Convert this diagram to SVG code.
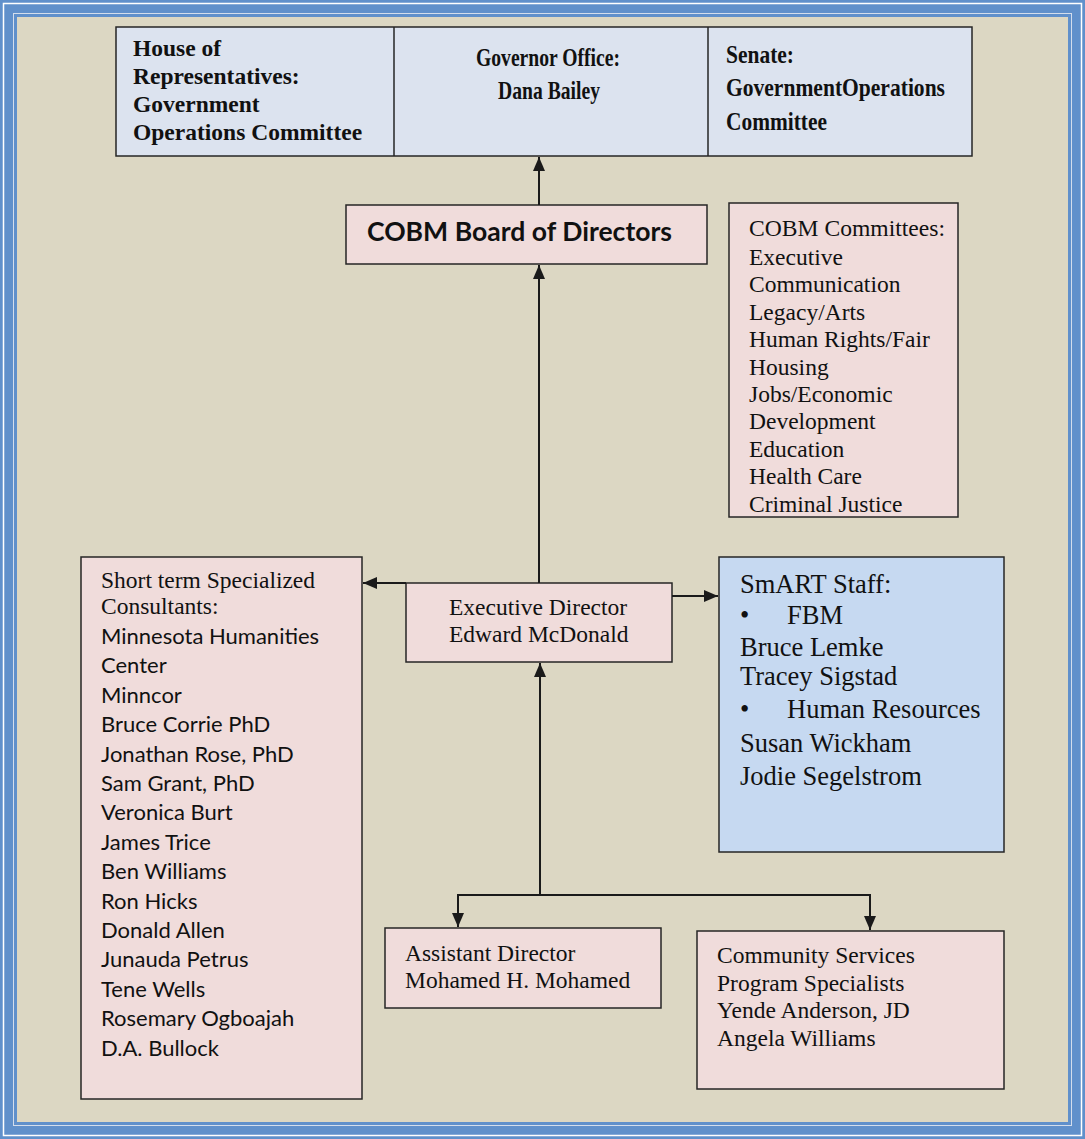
<svg xmlns="http://www.w3.org/2000/svg" width="1085" height="1139" viewBox="0 0 1085 1139">
<style>
.box{stroke:#262626;stroke-width:1.5}
.pink{fill:#F0DCDB}
.gray{fill:#DCE3EF}
.blue{fill:#C6D9F1}
.serif{font-family:"Liberation Serif","Times New Roman",serif;fill:#111}
.sans{font-family:Lato,"Open Sans","Liberation Sans",sans-serif;fill:#111}
.hb{font-weight:bold;font-size:23.5px}
.cond{font-weight:bold;font-size:25px}
.body{font-size:23.5px}
.cal{font-size:22px}
.big{font-size:26.5px}
.conn{fill:none;stroke:#1a1a1a;stroke-width:2}
</style>
<defs>
<marker id="arr" markerUnits="userSpaceOnUse" markerWidth="14" markerHeight="14" viewBox="0 0 14 12" refX="14" refY="6" orient="auto">
<path d="M0,0 L14,6 L0,12 Z" fill="#1a1a1a"/>
</marker>
</defs>
<g id="frame">
<rect width="1085" height="1139" fill="#6090CB"/>
<rect x="3.5" y="3.5" width="1078" height="1132" fill="none" stroke="#FFFFFF" stroke-width="1.5"/>
<rect x="13.5" y="13.5" width="1058" height="1112" fill="none" stroke="#D3DDEC" stroke-width="1"/>
<rect x="17" y="17" width="1051" height="1105" fill="#DCD7C3"/>
</g>
<g id="legislature">
<rect class="box gray" x="116" y="27" width="856" height="129"/>
<line class="box" x1="394" y1="27" x2="394" y2="156"/>
<line class="box" x1="708" y1="27" x2="708" y2="156"/>
<text class="serif hb" x="133"><tspan x="133" y="56">House of</tspan><tspan x="133" y="84">Representatives:</tspan><tspan x="133" y="112">Government</tspan><tspan x="133" y="140">Operations Committee</tspan></text>
</g>
<g id="governor">
<text class="serif cond" x="548" y="66" text-anchor="middle" textLength="144" lengthAdjust="spacingAndGlyphs">Governor Office:</text>
<text class="serif cond" x="549" y="99" text-anchor="middle" textLength="102" lengthAdjust="spacingAndGlyphs">Dana Bailey</text>
</g>
<g id="senate">
<text class="serif cond" x="726" y="63" textLength="68" lengthAdjust="spacingAndGlyphs">Senate:</text>
<text class="serif cond" x="726" y="96" textLength="219" lengthAdjust="spacingAndGlyphs">GovernmentOperations</text>
<text class="serif cond" x="726" y="130" textLength="101" lengthAdjust="spacingAndGlyphs">Committee</text>
</g>
<g id="board">
<rect class="box pink" x="346" y="205" width="361" height="59"/>
<text class="sans" x="367" y="241" font-size="27" font-weight="bold" textLength="305" lengthAdjust="spacingAndGlyphs">COBM Board of Directors</text>
</g>
<g id="committees">
<rect class="box pink" x="729" y="203" width="229" height="314"/>
<text class="serif body"><tspan x="749" y="236" textLength="196" lengthAdjust="spacingAndGlyphs">COBM Committees:</tspan><tspan x="749" y="265">Executive</tspan><tspan x="749" y="292.4">Communication</tspan><tspan x="749" y="319.8">Legacy/Arts</tspan><tspan x="749" y="347.2">Human Rights/Fair</tspan><tspan x="749" y="374.6">Housing</tspan><tspan x="749" y="402">Jobs/Economic</tspan><tspan x="749" y="429.4">Development</tspan><tspan x="749" y="456.8">Education</tspan><tspan x="749" y="484.2">Health Care</tspan><tspan x="749" y="511.6">Criminal Justice</tspan></text>
</g>
<g id="consultants">
<rect class="box pink" x="81" y="557" width="281" height="542"/>
<text class="serif body"><tspan x="101" y="588">Short term Specialized</tspan><tspan x="101" y="614">Consultants:</tspan></text>
<text class="sans cal"><tspan x="101" y="644">Minnesota Humanities</tspan><tspan x="101" y="673.4">Center</tspan><tspan x="101" y="702.8">Minncor</tspan><tspan x="101" y="732.2">Bruce Corrie PhD</tspan><tspan x="101" y="761.6">Jonathan Rose, PhD</tspan><tspan x="101" y="791">Sam Grant, PhD</tspan><tspan x="101" y="820.4">Veronica Burt</tspan><tspan x="101" y="849.8">James Trice</tspan><tspan x="101" y="879.2">Ben Williams</tspan><tspan x="101" y="908.6">Ron Hicks</tspan><tspan x="101" y="938">Donald Allen</tspan><tspan x="101" y="967.4">Junauda Petrus</tspan><tspan x="101" y="996.8">Tene Wells</tspan><tspan x="101" y="1026.2">Rosemary Ogboajah</tspan><tspan x="101" y="1055.6">D.A. Bullock</tspan></text>
</g>
<g id="executive">
<rect class="box pink" x="406" y="583" width="266" height="79"/>
<text class="serif body"><tspan x="449" y="615">Executive Director</tspan><tspan x="449" y="642">Edward McDonald</tspan></text>
</g>
<g id="smart">
<rect class="box blue" x="719" y="557" width="285" height="295"/>
<text class="serif big"><tspan x="740" y="593">SmART Staff:</tspan><tspan x="740" y="624">•</tspan><tspan x="787" y="624">FBM</tspan><tspan x="740" y="656">Bruce Lemke</tspan><tspan x="740" y="685">Tracey Sigstad</tspan><tspan x="740" y="718">•</tspan><tspan x="787" y="718">Human Resources</tspan><tspan x="740" y="752">Susan Wickham</tspan><tspan x="740" y="785">Jodie Segelstrom</tspan></text>
</g>
<g id="assistant">
<rect class="box pink" x="385" y="928" width="276" height="80"/>
<text class="serif body"><tspan x="405" y="961">Assistant Director</tspan><tspan x="405" y="988">Mohamed H. Mohamed</tspan></text>
</g>
<g id="community">
<rect class="box pink" x="697" y="931" width="307" height="158"/>
<text class="serif body"><tspan x="717" y="963">Community Services</tspan><tspan x="717" y="991">Program Specialists</tspan><tspan x="717" y="1018">Yende Anderson, JD</tspan><tspan x="717" y="1046">Angela Williams</tspan></text>
</g>
<g id="connectors">
<path class="conn" d="M539,205 V157" marker-end="url(#arr)"/>
<path class="conn" d="M539,583 V265" marker-end="url(#arr)"/>
<path class="conn" d="M406,583 H363" marker-end="url(#arr)"/>
<path class="conn" d="M672,596 H718" marker-end="url(#arr)"/>
<path class="conn" d="M540,895 V663" marker-end="url(#arr)"/>
<path class="conn" d="M458,895 H870"/>
<path class="conn" d="M458,894 V927" marker-end="url(#arr)"/>
<path class="conn" d="M870,894 V930" marker-end="url(#arr)"/>
</g>
</svg>
